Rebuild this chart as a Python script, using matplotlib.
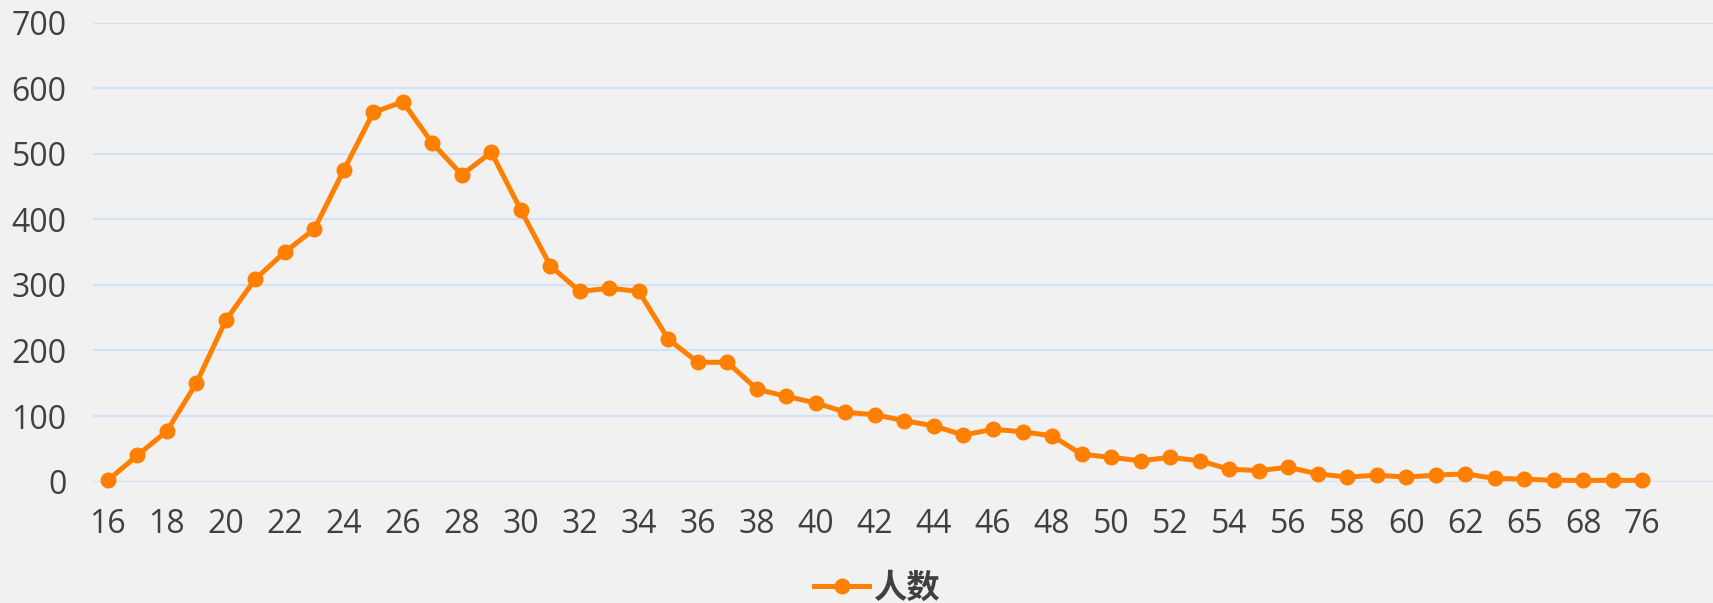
import matplotlib.pyplot as plt
import numpy as np

# age categories (only every other one is labelled on the axis)
ages = ['16', '17', '18', '19', '20', '21', '22', '23', '24', '25', '26', '27',
        '28', '29', '30', '31', '32', '33', '34', '35', '36', '37', '38', '39',
        '40', '41', '42', '43', '44', '45', '46', '47', '48', '49', '50', '51',
        '52', '53', '54', '55', '56', '57', '58', '59', '60', '61', '62', '63',
        '65', '67', '68', '70', '76']
counts = [2, 40, 77, 150, 246, 309, 350, 385, 475, 563, 579, 516,
          468, 502, 414, 329, 290, 295, 290, 217, 182, 182, 141, 130,
          120, 106, 102, 93, 85, 71, 80, 76, 70, 42, 37, 32,
          37, 32, 19, 17, 22, 12, 7, 10, 7, 10, 12, 5,
          4, 2, 2, 2, 2]
yticks = [0, 100, 200, 300, 400, 500, 600, 700]

bg = '#F1F1F1'
orange = '#FF8000'
text_color = '#404040'

plt.rcParams['font.family'] = ['Open Sans', 'Noto Sans CJK SC', 'DejaVu Sans']

fig = plt.figure(figsize=(17.13, 6.03), dpi=100, facecolor=bg)
ax = fig.add_axes([93 / 1713, 1 - 481.7 / 603, 1 - 93 / 1713, (481.7 - 22.5) / 603])
ax.set_facecolor(bg)

x = np.arange(len(ages))
ax.plot(x, counts, color=orange, linewidth=3.6, marker='o', markersize=10.5,
        label='人数', zorder=3, clip_on=False)

ax.set_ylim(0, 700)
ax.set_yticks(yticks)
ax.set_xlim(-0.5, len(ages) - 1 + 2.4)
ax.set_xticks(x[::2])
ax.set_xticklabels(ages[::2])

ax.grid(axis='y', color='#D3E2F3', linewidth=1.6)
ax.set_axisbelow(True)
for s in ax.spines.values():
    s.set_visible(False)
ax.tick_params(axis='both', length=0, labelsize=23, labelcolor=text_color)
ax.tick_params(axis='y', pad=19)
ax.tick_params(axis='x', pad=19)

leg = fig.legend(loc='lower center', bbox_to_anchor=(0.512, -0.053), frameon=False,
                 handlelength=1.65, handletextpad=0.12,
                 prop={'family': 'Noto Sans CJK SC', 'weight': 'bold', 'size': 24})
for t in leg.get_texts():
    t.set_color(text_color)

fig.savefig('out.png', dpi=100, facecolor=bg)
